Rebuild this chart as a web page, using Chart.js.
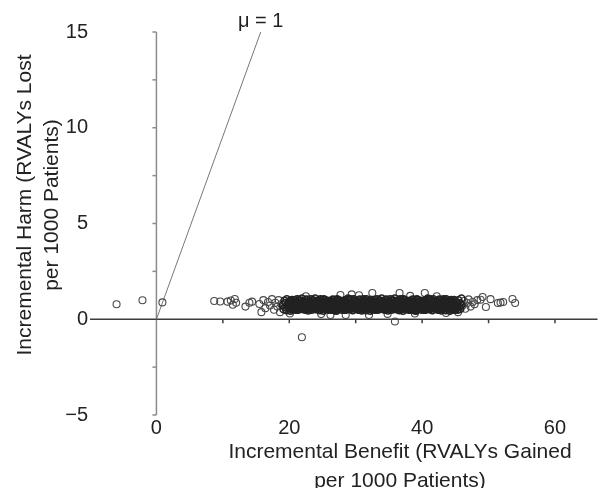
<!DOCTYPE html>
<html>
<head>
<meta charset="utf-8">
<script src="https://cdn.jsdelivr.net/npm/chart.js@4/dist/chart.umd.min.js"></script>
<style>
  html, body { margin: 0; padding: 0; background: #fff; }
  #chart { display: block; }
</style>
</head>
<body>
<canvas id="chart" width="603" height="488"></canvas>
<script>
// simulated incremental benefit (x) and harm (y), per 1000 patients
const benefit = [
  19.05, 19.14, 19.27, 19.36, 19.44, 19.58, 19.63, 19.77, 19.85, 19.96,
  20.09, 20.18, 20.24, 20.39, 20.51, 20.55, 20.70, 20.81, 20.88, 20.99,
  21.02, 21.12, 21.31, 21.33, 21.47, 21.60, 21.68, 21.74, 21.91, 21.93,
  22.05, 22.14, 22.27, 22.36, 22.44, 22.58, 22.63, 22.77, 22.85, 22.96,
  23.09, 23.18, 23.24, 23.39, 23.51, 23.55, 23.70, 23.81, 23.88, 23.99,
  24.02, 24.12, 24.31, 24.33, 24.47, 24.60, 24.68, 24.74, 24.91, 24.93,
  25.05, 25.14, 25.27, 25.36, 25.44, 25.58, 25.63, 25.77, 25.85, 25.96,
  26.09, 26.18, 26.24, 26.39, 26.51, 26.55, 26.70, 26.81, 26.88, 26.99,
  27.02, 27.12, 27.31, 27.33, 27.47, 27.60, 27.68, 27.74, 27.91, 27.93,
  28.05, 28.14, 28.27, 28.36, 28.44, 28.58, 28.63, 28.77, 28.85, 28.96,
  29.09, 29.18, 29.24, 29.39, 29.51, 29.55, 29.70, 29.81, 29.88, 29.99,
  30.02, 30.12, 30.31, 30.33, 30.47, 30.60, 30.68, 30.74, 30.91, 30.93,
  31.05, 31.14, 31.27, 31.36, 31.44, 31.58, 31.63, 31.77, 31.85, 31.96,
  32.09, 32.18, 32.24, 32.39, 32.51, 32.55, 32.70, 32.81, 32.88, 32.99,
  33.02, 33.12, 33.31, 33.33, 33.47, 33.60, 33.68, 33.74, 33.91, 33.93,
  34.05, 34.14, 34.27, 34.36, 34.44, 34.58, 34.63, 34.77, 34.85, 34.96,
  35.09, 35.18, 35.24, 35.39, 35.51, 35.55, 35.70, 35.81, 35.88, 35.99,
  36.02, 36.12, 36.31, 36.33, 36.47, 36.60, 36.68, 36.74, 36.91, 36.93,
  37.05, 37.14, 37.27, 37.36, 37.44, 37.58, 37.63, 37.77, 37.85, 37.96,
  38.09, 38.18, 38.24, 38.39, 38.51, 38.55, 38.70, 38.81, 38.88, 38.99,
  39.02, 39.12, 39.31, 39.33, 39.47, 39.60, 39.68, 39.74, 39.91, 39.93,
  40.05, 40.14, 40.27, 40.36, 40.44, 40.58, 40.63, 40.77, 40.85, 40.96,
  41.09, 41.18, 41.24, 41.39, 41.51, 41.55, 41.70, 41.81, 41.88, 41.99,
  42.02, 42.12, 42.31, 42.33, 42.47, 42.60, 42.68, 42.74, 42.91, 42.93,
  43.05, 43.14, 43.27, 43.36, 43.44, 43.58, 43.63, 43.77, 43.85, 43.96,
  44.09, 44.18, 44.24, 44.39, 44.51, 44.55, 44.70, 44.81, 44.88, 44.99,
  45.02, 45.12, 45.31, 45.33, 45.47, 45.60, 45.68, 45.74, 45.91, 45.93
];
const harm = [
  0.74, 0.52, 0.96, 0.63, 0.85, 0.47, 1.05, 0.69, 0.58, 0.91,
  0.81, 0.44, 0.67, 1.01, 0.55, 0.78, 0.93, 0.61, 0.86, 0.50,
  0.59, 0.88, 0.71, 0.49, 0.99, 0.65, 0.83, 0.54, 1.08, 0.76,
  0.92, 0.62, 0.51, 0.80, 0.70, 1.03, 0.57, 0.89, 0.46, 0.68,
  0.59, 0.88, 0.71, 0.49, 0.99, 0.65, 0.83, 0.54, 1.08, 0.76,
  0.74, 0.52, 0.96, 0.63, 0.85, 0.47, 1.05, 0.69, 0.58, 0.91,
  0.81, 0.44, 0.67, 1.01, 0.55, 0.78, 0.93, 0.61, 0.86, 0.50,
  0.92, 0.62, 0.51, 0.80, 0.70, 1.03, 0.57, 0.89, 0.46, 0.68,
  0.81, 0.44, 0.67, 1.01, 0.55, 0.78, 0.93, 0.61, 0.86, 0.50,
  0.59, 0.88, 0.71, 0.49, 0.99, 0.65, 0.83, 0.54, 1.08, 0.76,
  0.74, 0.52, 0.96, 0.63, 0.85, 0.47, 1.05, 0.69, 0.58, 0.91,
  0.92, 0.62, 0.51, 0.80, 0.70, 1.03, 0.57, 0.89, 0.46, 0.68,
  0.74, 0.52, 0.96, 0.63, 0.85, 0.47, 1.05, 0.69, 0.58, 0.91,
  0.81, 0.44, 0.67, 1.01, 0.55, 0.78, 0.93, 0.61, 0.86, 0.50,
  0.59, 0.88, 0.71, 0.49, 0.99, 0.65, 0.83, 0.54, 1.08, 0.76,
  0.92, 0.62, 0.51, 0.80, 0.70, 1.03, 0.57, 0.89, 0.46, 0.68,
  0.59, 0.88, 0.71, 0.49, 0.99, 0.65, 0.83, 0.54, 1.08, 0.76,
  0.74, 0.52, 0.96, 0.63, 0.85, 0.47, 1.05, 0.69, 0.58, 0.91,
  0.81, 0.44, 0.67, 1.01, 0.55, 0.78, 0.93, 0.61, 0.86, 0.50,
  0.92, 0.62, 0.51, 0.80, 0.70, 1.03, 0.57, 0.89, 0.46, 0.68,
  0.81, 0.44, 0.67, 1.01, 0.55, 0.78, 0.93, 0.61, 0.86, 0.50,
  0.59, 0.88, 0.71, 0.49, 0.99, 0.65, 0.83, 0.54, 1.08, 0.76,
  0.74, 0.52, 0.96, 0.63, 0.85, 0.47, 1.05, 0.69, 0.58, 0.91,
  0.92, 0.62, 0.51, 0.80, 0.70, 1.03, 0.57, 0.89, 0.46, 0.68,
  0.74, 0.52, 0.96, 0.63, 0.85, 0.47, 1.05, 0.69, 0.58, 0.91,
  0.81, 0.44, 0.67, 1.01, 0.55, 0.78, 0.93, 0.61, 0.86, 0.50,
  0.59, 0.88, 0.71, 0.49, 0.99, 0.65, 0.83, 0.54, 1.08, 0.76
];

// second batch of simulations in the dense core
const coreBenefit = [
  20.00, 20.11, 20.21, 20.29, 20.42, 20.49, 20.66, 20.72, 20.80, 20.90,
  21.00, 21.11, 21.21, 21.29, 21.42, 21.49, 21.66, 21.72, 21.80, 21.90,
  22.00, 22.11, 22.21, 22.29, 22.42, 22.49, 22.66, 22.72, 22.80, 22.90,
  23.00, 23.11, 23.21, 23.29, 23.42, 23.49, 23.66, 23.72, 23.80, 23.90,
  24.00, 24.11, 24.21, 24.29, 24.42, 24.49, 24.66, 24.72, 24.80, 24.90,
  25.00, 25.11, 25.21, 25.29, 25.42, 25.49, 25.66, 25.72, 25.80, 25.90,
  26.00, 26.11, 26.21, 26.29, 26.42, 26.49, 26.66, 26.72, 26.80, 26.90,
  27.00, 27.11, 27.21, 27.29, 27.42, 27.49, 27.66, 27.72, 27.80, 27.90,
  28.00, 28.11, 28.21, 28.29, 28.42, 28.49, 28.66, 28.72, 28.80, 28.90,
  29.00, 29.11, 29.21, 29.29, 29.42, 29.49, 29.66, 29.72, 29.80, 29.90,
  30.00, 30.11, 30.21, 30.29, 30.42, 30.49, 30.66, 30.72, 30.80, 30.90,
  31.00, 31.11, 31.21, 31.29, 31.42, 31.49, 31.66, 31.72, 31.80, 31.90,
  32.00, 32.11, 32.21, 32.29, 32.42, 32.49, 32.66, 32.72, 32.80, 32.90,
  33.00, 33.11, 33.21, 33.29, 33.42, 33.49, 33.66, 33.72, 33.80, 33.90,
  34.00, 34.11, 34.21, 34.29, 34.42, 34.49, 34.66, 34.72, 34.80, 34.90,
  35.00, 35.11, 35.21, 35.29, 35.42, 35.49, 35.66, 35.72, 35.80, 35.90,
  36.00, 36.11, 36.21, 36.29, 36.42, 36.49, 36.66, 36.72, 36.80, 36.90,
  37.00, 37.11, 37.21, 37.29, 37.42, 37.49, 37.66, 37.72, 37.80, 37.90,
  38.00, 38.11, 38.21, 38.29, 38.42, 38.49, 38.66, 38.72, 38.80, 38.90,
  39.00, 39.11, 39.21, 39.29, 39.42, 39.49, 39.66, 39.72, 39.80, 39.90,
  40.00, 40.11, 40.21, 40.29, 40.42, 40.49, 40.66, 40.72, 40.80, 40.90,
  41.00, 41.11, 41.21, 41.29, 41.42, 41.49, 41.66, 41.72, 41.80, 41.90,
  42.00, 42.11, 42.21, 42.29, 42.42, 42.49, 42.66, 42.72, 42.80, 42.90,
  43.00, 43.11, 43.21, 43.29, 43.42, 43.49, 43.66, 43.72, 43.80, 43.90,
  44.00, 44.11, 44.21, 44.29, 44.42, 44.49, 44.66, 44.72, 44.80, 44.90
];
const coreHarm = [
  0.66, 0.95, 0.57, 0.84, 0.72, 0.50, 0.90, 0.78, 1.00, 0.62,
  0.53, 0.77, 1.04, 0.69, 0.88, 0.60, 0.74, 0.97, 0.56, 0.83,
  0.66, 0.95, 0.57, 0.84, 0.72, 0.50, 0.90, 0.78, 1.00, 0.62,
  0.53, 0.77, 1.04, 0.69, 0.88, 0.60, 0.74, 0.97, 0.56, 0.83,
  0.66, 0.95, 0.57, 0.84, 0.72, 0.50, 0.90, 0.78, 1.00, 0.62,
  0.53, 0.77, 1.04, 0.69, 0.88, 0.60, 0.74, 0.97, 0.56, 0.83,
  0.66, 0.95, 0.57, 0.84, 0.72, 0.50, 0.90, 0.78, 1.00, 0.62,
  0.53, 0.77, 1.04, 0.69, 0.88, 0.60, 0.74, 0.97, 0.56, 0.83,
  0.66, 0.95, 0.57, 0.84, 0.72, 0.50, 0.90, 0.78, 1.00, 0.62,
  0.53, 0.77, 1.04, 0.69, 0.88, 0.60, 0.74, 0.97, 0.56, 0.83,
  0.66, 0.95, 0.57, 0.84, 0.72, 0.50, 0.90, 0.78, 1.00, 0.62,
  0.53, 0.77, 1.04, 0.69, 0.88, 0.60, 0.74, 0.97, 0.56, 0.83,
  0.66, 0.95, 0.57, 0.84, 0.72, 0.50, 0.90, 0.78, 1.00, 0.62,
  0.53, 0.77, 1.04, 0.69, 0.88, 0.60, 0.74, 0.97, 0.56, 0.83,
  0.66, 0.95, 0.57, 0.84, 0.72, 0.50, 0.90, 0.78, 1.00, 0.62,
  0.53, 0.77, 1.04, 0.69, 0.88, 0.60, 0.74, 0.97, 0.56, 0.83,
  0.66, 0.95, 0.57, 0.84, 0.72, 0.50, 0.90, 0.78, 1.00, 0.62,
  0.53, 0.77, 1.04, 0.69, 0.88, 0.60, 0.74, 0.97, 0.56, 0.83,
  0.66, 0.95, 0.57, 0.84, 0.72, 0.50, 0.90, 0.78, 1.00, 0.62,
  0.53, 0.77, 1.04, 0.69, 0.88, 0.60, 0.74, 0.97, 0.56, 0.83,
  0.66, 0.95, 0.57, 0.84, 0.72, 0.50, 0.90, 0.78, 1.00, 0.62,
  0.53, 0.77, 1.04, 0.69, 0.88, 0.60, 0.74, 0.97, 0.56, 0.83,
  0.66, 0.95, 0.57, 0.84, 0.72, 0.50, 0.90, 0.78, 1.00, 0.62,
  0.53, 0.77, 1.04, 0.69, 0.88, 0.60, 0.74, 0.97, 0.56, 0.83,
  0.66, 0.95, 0.57, 0.84, 0.72, 0.50, 0.90, 0.78, 1.00, 0.62
];

// tails and outliers
const tailBenefit = [
  -6.0, -2.1, 0.9,
  8.7, 9.6, 10.7, 11.2, 11.5, 11.8, 12.0, 13.4, 14.0, 14.4,
  15.5, 15.8, 16.1, 16.4, 16.8, 17.1, 17.4, 17.7, 17.9, 18.2, 18.4, 18.6, 18.8,
  46.1, 46.3, 46.5, 46.8, 47.0, 47.3, 47.6, 47.9, 48.3, 48.8, 49.1, 49.6,
  50.3, 51.4, 51.8, 52.2, 53.6, 54.0,
  21.9, 35.9, 20.1, 26.2, 28.5, 32.0, 43.6, 45.4, 24.8, 34.8, 38.9,
  32.5, 40.4, 36.6, 27.7, 22.5, 30.5, 38.2, 29.4, 42.2
];
const tailHarm = [
  0.78, 0.99, 0.88,
  0.95, 0.93, 0.92, 0.98, 0.76, 1.06, 0.86, 0.66, 0.86, 0.92,
  0.80, 0.37, 1.00, 0.58, 0.90, 0.72, 1.05, 0.50, 0.86, 0.66, 1.00, 0.37, 0.78,
  0.72, 0.95, 0.55, 0.85, 1.04, 0.66, 0.90, 0.78, 1.00, 1.02, 1.16, 0.64,
  1.05, 0.85, 0.87, 0.90, 1.06, 0.85,
  -0.94, -0.12, 0.30, 0.22, 0.22, 0.22, 0.33, 0.37, 0.27, 0.28, 0.30,
  1.37, 1.37, 1.37, 1.27, 1.20, 1.25, 1.22, 1.30, 1.20
];

// willingness-to-trade line, mu = 1
const muBenefit = [0, 15.7];
const muHarm = [0, 15];

const xLabels = [0, 20, 40, 60];
const yLabels = [-5, 0, 5, 10, 15];
const xTickMarks = [10, 20, 30, 40, 50, 60];
const yTickMarks = [-5, -2.5, 2.5, 5, 7.5, 10, 12.5, 15];
const xTitle = ['Incremental Benefit (RVALYs Gained', 'per 1000 Patients)'];
const yTitle = ['Incremental Harm (RVALYs Lost', 'per 1000 Patients)'];

const FONT = '"Liberation Sans", Arial, sans-serif';

const toPoints = (xs, ys) => xs.map((v, i) => ({ x: v, y: ys[i] }));

const crossAxes = {
  id: 'crossAxes',
  beforeDatasetsDraw(chart) {
    const { ctx, chartArea, scales: { x, y } } = chart;
    const x0 = x.getPixelForValue(0);
    const y0 = y.getPixelForValue(0);
    ctx.save();
    // vertical axis through x = 0
    ctx.strokeStyle = '#8c8c8c';
    ctx.lineWidth = 1.5;
    ctx.beginPath();
    ctx.moveTo(x0, y.getPixelForValue(-5));
    ctx.lineTo(x0, y.getPixelForValue(15));
    ctx.stroke();
    yTickMarks.forEach(v => {
      const py = y.getPixelForValue(v);
      ctx.beginPath();
      ctx.moveTo(x0, py);
      ctx.lineTo(x0 - 4, py);
      ctx.stroke();
    });
    // horizontal axis through y = 0
    ctx.strokeStyle = '#3c3c3c';
    ctx.beginPath();
    ctx.moveTo(chartArea.left, y0);
    ctx.lineTo(chartArea.right, y0);
    ctx.stroke();
    xTickMarks.forEach(v => {
      const px = x.getPixelForValue(v);
      ctx.beginPath();
      ctx.moveTo(px, y0);
      ctx.lineTo(px, y0 + 4);
      ctx.stroke();
    });
    ctx.restore();
  },
  afterDraw(chart) {
    const { ctx, scales: { x, y } } = chart;
    ctx.save();
    ctx.fillStyle = '#222';
    ctx.textAlign = 'center';
    ctx.textBaseline = 'alphabetic';
    ctx.font = '20px ' + FONT;
    ctx.fillText('\u03bc = 1', x.getPixelForValue(muBenefit[1]), y.getPixelForValue(muHarm[1]) - 5);

    ctx.font = '21px ' + FONT;
    ctx.textBaseline = 'middle';
    ctx.fillText(xTitle[0], 400, 452);
    ctx.fillText(xTitle[1], 400, 481);

    ctx.translate(25, 205);
    ctx.rotate(-Math.PI / 2);
    ctx.fillText(yTitle[0], 0, 0);
    ctx.fillText(yTitle[1], 0, 27);
    ctx.restore();
  }
};

new Chart(document.getElementById('chart'), {
  type: 'scatter',
  data: {
    datasets: [{
      data: toPoints(benefit.concat(coreBenefit), harm.concat(coreHarm)),
      borderColor: '#222',
      backgroundColor: 'rgba(0,0,0,0)',
      borderWidth: 1.5,
      pointRadius: 3.5
    }, {
      data: toPoints(tailBenefit, tailHarm),
      borderColor: '#4a4a4a',
      backgroundColor: 'rgba(0,0,0,0)',
      borderWidth: 1.1,
      pointRadius: 3.5
    }, {
      type: 'line',
      data: toPoints(muBenefit, muHarm),
      borderColor: '#777',
      borderWidth: 1,
      pointRadius: 0,
      fill: false
    }]
  },
  options: {
    responsive: false,
    animation: false,
    layout: { padding: { top: 32, right: 0, bottom: 0, left: 0 } },
    plugins: { legend: { display: false }, tooltip: { enabled: false } },
    scales: {
      x: {
        type: 'linear',
        min: -10,
        max: 66.4,
        grid: { display: false, drawTicks: false },
        border: { display: false },
        afterBuildTicks: s => { s.ticks = xLabels.map(v => ({ value: v })); },
        afterFit: s => { s.height = 73; },
        ticks: { font: { size: 20, family: FONT }, color: '#222', padding: 1, maxRotation: 0, autoSkip: false }
      },
      y: {
        min: -5,
        max: 15,
        grid: { display: false, drawTicks: false },
        border: { display: false },
        afterBuildTicks: s => { s.ticks = yLabels.map(v => ({ value: v })); },
        afterFit: s => { s.width = 90; },
        ticks: {
          font: { size: 20, family: FONT },
          color: '#222',
          padding: 2,
          callback: v => v < 0 ? '\u2212' + Math.abs(v) : String(v)
        }
      }
    }
  },
  plugins: [crossAxes]
});
</script>
</body>
</html>
